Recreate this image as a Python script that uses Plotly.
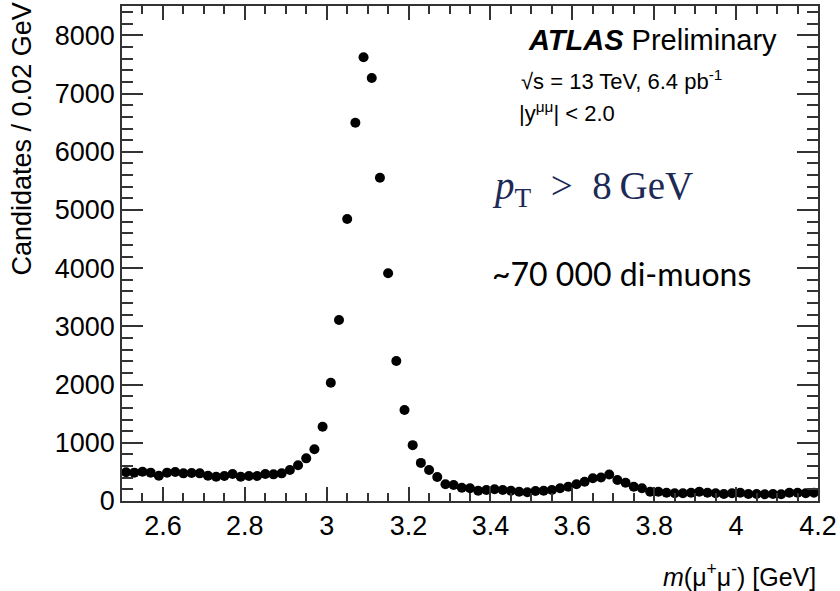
import plotly.graph_objects as go

# Bin centres (0.02 GeV bins) and candidate counts
mass = [2.51, 2.53, 2.55, 2.57, 2.59, 2.61, 2.63, 2.65, 2.67, 2.69,
        2.71, 2.73, 2.75, 2.77, 2.79, 2.81, 2.83, 2.85, 2.87, 2.89,
        2.91, 2.93, 2.95, 2.97, 2.99, 3.01, 3.03, 3.05, 3.07, 3.09,
        3.11, 3.13, 3.15, 3.17, 3.19, 3.21, 3.23, 3.25, 3.27, 3.29,
        3.31, 3.33, 3.35, 3.37, 3.39, 3.41, 3.43, 3.45, 3.47, 3.49,
        3.51, 3.53, 3.55, 3.57, 3.59, 3.61, 3.63, 3.65, 3.67, 3.69,
        3.71, 3.73, 3.75, 3.77, 3.79, 3.81, 3.83, 3.85, 3.87, 3.89,
        3.91, 3.93, 3.95, 3.97, 3.99, 4.01, 4.03, 4.05, 4.07, 4.09,
        4.11, 4.13, 4.15, 4.17, 4.19]
candidates = [493, 487, 504, 487, 435, 487, 498, 475, 481, 475,
              435, 418, 429, 464, 418, 429, 429, 464, 458, 475,
              533, 613, 733, 888, 1277, 2033, 3110, 4845, 6500, 7623,
              7268, 5555, 3912, 2405, 1564, 960, 655, 533, 412, 287,
              275, 229, 218, 177, 189, 201, 189, 177, 160, 149,
              172, 177, 189, 218, 246, 287, 332, 390, 404, 455,
              361, 315, 246, 218, 160, 160, 143, 132, 132, 143,
              160, 143, 132, 120, 132, 143, 120, 120, 115, 120,
              115, 143, 143, 132, 143]

x_tick_vals = [2.6, 2.8, 3.0, 3.2, 3.4, 3.6, 3.8, 4.0, 4.2]
x_tick_text = ["2.6", "2.8", "3", "3.2", "3.4", "3.6", "3.8", "4", "4.2"]
y_tick_vals = [0, 1000, 2000, 3000, 4000, 5000, 6000, 7000, 8000]
y_tick_text = ["0", "1000", "2000", "3000", "4000", "5000", "6000", "7000", "8000"]

W, H = 840, 591
L, R, T, B = 122, 818, 6, 501


def px(x):
    return (x - L) / (R - L)


def py(y):
    return (B - y) / (B - T)


SANS = "Liberation Sans, Arial, Helvetica, sans-serif"

fig = go.Figure()
fig.add_trace(go.Scatter(
    x=mass, y=candidates, mode="markers",
    marker=dict(color="black", size=10, line=dict(width=0)),
    showlegend=False, hoverinfo="skip",
))

axis_common = dict(
    showgrid=False, zeroline=False, showline=True, linecolor="#333333",
    linewidth=1.5, ticks="inside", tickcolor="#333333", tickwidth=1.5,
    mirror="allticks", tickfont=dict(family=SANS, size=27, color="black"),
)

fig.update_xaxes(
    range=[2.5, 4.2], tickmode="array", tickvals=x_tick_vals, ticktext=x_tick_text,
    ticklen=14,
    minor=dict(dtick=0.05, tick0=2.5, ticklen=8, ticks="inside", tickcolor="#333333", tickwidth=1.5),
    **axis_common,
)
fig.update_yaxes(
    range=[0, 8505], tickmode="array", tickvals=y_tick_vals, ticktext=y_tick_text,
    ticklen=21,
    minor=dict(dtick=200, tick0=0, ticklen=11, ticks="inside", tickcolor="#333333", tickwidth=1.5),
    **axis_common,
)

annotations = [
    dict(text="<b><i>ATLAS</i></b> Preliminary", x=px(526), y=py(40),
         font=dict(family=SANS, size=29, color="black")),
    dict(text="\u221as = 13 TeV, 6.4 pb<sup>-1</sup>", x=px(519), y=py(80),
         font=dict(family=SANS, size=22, color="black")),
    dict(text="|y<sup>\u03bc\u03bc</sup>| &lt; 2.0", x=px(517), y=py(112),
         font=dict(family=SANS, size=22, color="black")),
    dict(text="<i>p</i><sub>T</sub>  &gt;  8\u2009GeV", x=px(490), y=py(188),
         font=dict(family="Liberation Serif, Times New Roman, serif", size=39, color="#1c2a56")),
    dict(text="~70 000 di-muons", x=px(490), y=py(274),
         font=dict(family="Lato, Calibri, sans-serif", size=32, color="black")),
]
for a in annotations:
    a.update(xref="paper", yref="paper", xanchor="left", yanchor="middle", showarrow=False)
    fig.add_annotation(**a)

fig.add_annotation(text="<i>m</i>(\u03bc<sup>+</sup>\u03bc<sup>-</sup>) [GeV]",
                   xref="paper", yref="paper", x=1.0, y=py(575),
                   xanchor="right", yanchor="middle", showarrow=False,
                   font=dict(family=SANS, size=25, color="black"))
fig.add_annotation(text="Candidates / 0.02 GeV", textangle=-90,
                   xref="paper", yref="paper", x=px(22), y=py(1),
                   xanchor="center", yanchor="top", showarrow=False,
                   font=dict(family=SANS, size=27, color="black"))

fig.update_layout(
    width=W, height=H,
    margin=dict(l=L, r=W - R, t=T, b=H - B, autoexpand=False),
    plot_bgcolor="white", paper_bgcolor="white",
)

fig.write_html("out.html")
